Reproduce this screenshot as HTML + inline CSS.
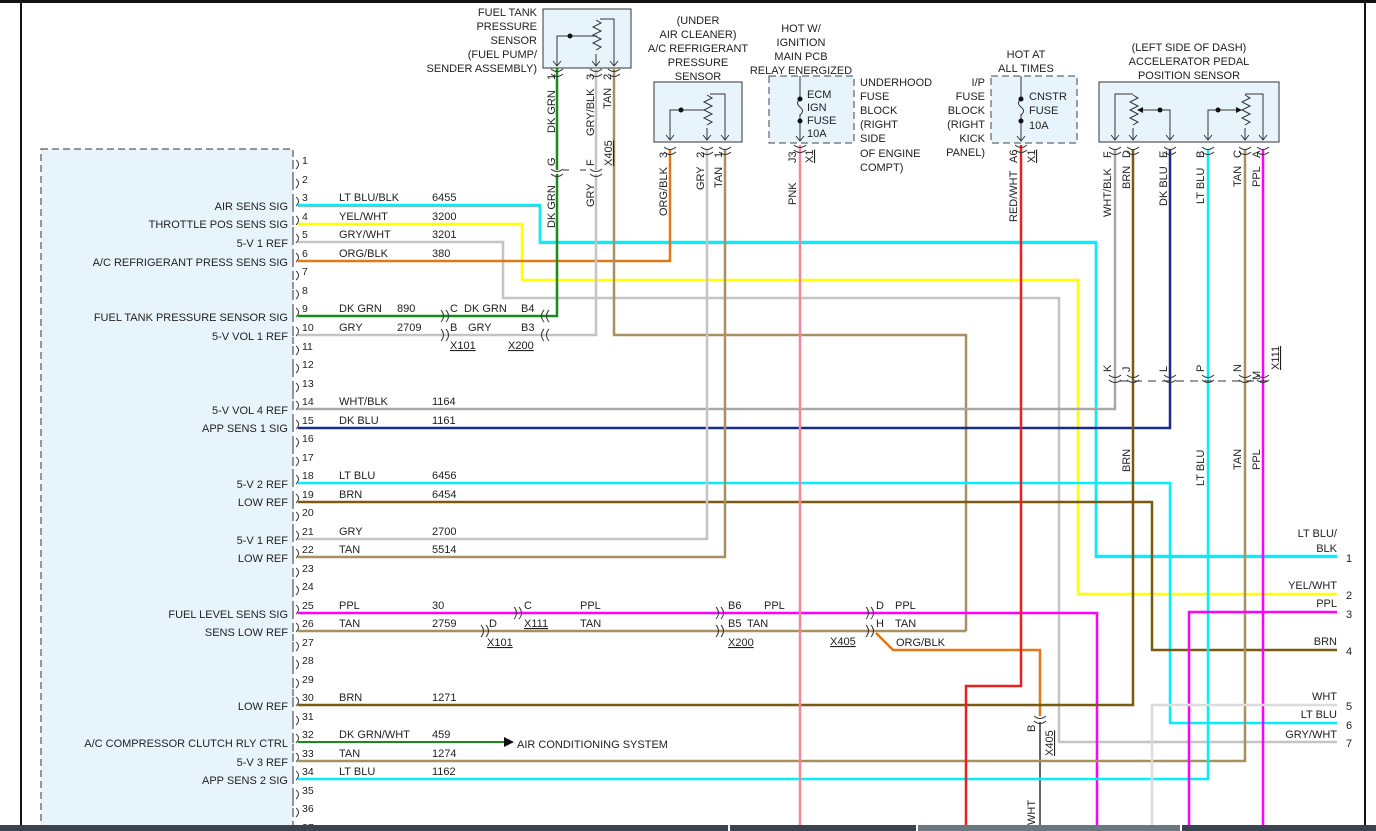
<!DOCTYPE html>
<html><head><meta charset="utf-8"><style>
html,body{margin:0;padding:0;background:#fff;}
svg{display:block;font-family:"Liberation Sans",sans-serif;font-size:11px;fill:#222;}
</style></head><body>
<svg width="1376" height="831" viewBox="0 0 1376 831" xmlns="http://www.w3.org/2000/svg">
<defs>
<g id="pm"><path d="M293 -8 V1 M296 -8 q5 4 0 9" stroke="#333" stroke-width="1" fill="none"/></g>
<g id="hc"><path d="M-4 -6 q5 6 0 12 M1 -6 q5 6 0 12" stroke="#333" stroke-width="1" fill="none"/></g>
<g id="hcl"><path d="M4 -6 q-5 6 0 12 M-1 -6 q-5 6 0 12" stroke="#333" stroke-width="1" fill="none"/></g>
<g id="vc"><path d="M-6 -3 q6 5 12 0 M-6 2 q6 5 12 0" stroke="#333" stroke-width="1" fill="none"/></g>
<g id="va"><path d="M-4 -5 L0 0 L4 -5" stroke="#333" stroke-width="1" fill="none"/></g>
</defs>
<rect x="0" y="0" width="1376" height="3" fill="#111"/>
<line x1="21" y1="0" x2="21" y2="831" stroke="#111" stroke-width="2"/>
<line x1="1365" y1="0" x2="1365" y2="831" stroke="#111" stroke-width="2"/>
<!-- ECU box -->
<rect x="41" y="149" width="252" height="700" fill="#e8f4fc" stroke="#333" stroke-dasharray="7,4" stroke-width="1"/>
<!-- pins -->
<g>
<use href="#pm" y="168"/><use href="#pm" y="187"/><use href="#pm" y="205"/><use href="#pm" y="224"/><use href="#pm" y="242"/><use href="#pm" y="261"/><use href="#pm" y="279"/><use href="#pm" y="298"/><use href="#pm" y="316"/><use href="#pm" y="335"/><use href="#pm" y="354"/><use href="#pm" y="372"/><use href="#pm" y="391"/><use href="#pm" y="409"/><use href="#pm" y="428"/><use href="#pm" y="446"/><use href="#pm" y="465"/><use href="#pm" y="483"/><use href="#pm" y="502"/><use href="#pm" y="520"/><use href="#pm" y="539"/><use href="#pm" y="557"/><use href="#pm" y="576"/><use href="#pm" y="594"/><use href="#pm" y="613"/><use href="#pm" y="631"/><use href="#pm" y="650"/><use href="#pm" y="668"/><use href="#pm" y="687"/><use href="#pm" y="705"/><use href="#pm" y="724"/><use href="#pm" y="742"/><use href="#pm" y="761"/><use href="#pm" y="779"/><use href="#pm" y="798"/><use href="#pm" y="816"/>
</g>
<g font-size="10.5">
<text x="302" y="164">1</text><text x="302" y="183">2</text><text x="302" y="201">3</text><text x="302" y="220">4</text><text x="302" y="238">5</text><text x="302" y="257">6</text><text x="302" y="275">7</text><text x="302" y="294">8</text><text x="302" y="312">9</text><text x="302" y="331">10</text><text x="302" y="350">11</text><text x="302" y="368">12</text><text x="302" y="387">13</text><text x="302" y="405">14</text><text x="302" y="424">15</text><text x="302" y="442">16</text><text x="302" y="461">17</text><text x="302" y="479">18</text><text x="302" y="498">19</text><text x="302" y="516">20</text><text x="302" y="535">21</text><text x="302" y="553">22</text><text x="302" y="572">23</text><text x="302" y="590">24</text><text x="302" y="609">25</text><text x="302" y="627">26</text><text x="302" y="646">27</text><text x="302" y="664">28</text><text x="302" y="683">29</text><text x="302" y="701">30</text><text x="302" y="720">31</text><text x="302" y="738">32</text><text x="302" y="757">33</text><text x="302" y="775">34</text><text x="302" y="794">35</text><text x="302" y="812">36</text><text x="302" y="831">37</text>
</g>
<g text-anchor="end">
<text x="288" y="210">AIR SENS SIG</text>
<text x="288" y="228">THROTTLE POS SENS SIG</text>
<text x="288" y="247">5-V 1 REF</text>
<text x="288" y="266">A/C REFRIGERANT PRESS SENS SIG</text>
<text x="288" y="321">FUEL TANK PRESSURE SENSOR SIG</text>
<text x="288" y="340">5-V VOL 1 REF</text>
<text x="288" y="414">5-V VOL 4 REF</text>
<text x="288" y="432">APP SENS 1 SIG</text>
<text x="288" y="488">5-V 2 REF</text>
<text x="288" y="506">LOW REF</text>
<text x="288" y="544">5-V 1 REF</text>
<text x="288" y="562">LOW REF</text>
<text x="288" y="618">FUEL LEVEL SENS SIG</text>
<text x="288" y="636">SENS LOW REF</text>
<text x="288" y="710">LOW REF</text>
<text x="288" y="747">A/C COMPRESSOR CLUTCH RLY CTRL</text>
<text x="288" y="766">5-V 3 REF</text>
<text x="288" y="784">APP SENS 2 SIG</text>
</g>
<!-- wire labels -->
<g>
<text x="339" y="201">LT BLU/BLK</text><text x="432" y="201">6455</text>
<text x="339" y="220">YEL/WHT</text><text x="432" y="220">3200</text>
<text x="339" y="238">GRY/WHT</text><text x="432" y="238">3201</text>
<text x="339" y="257">ORG/BLK</text><text x="432" y="257">380</text>
<text x="339" y="312">DK GRN</text><text x="397" y="312">890</text>
<text x="339" y="331">GRY</text><text x="397" y="331">2709</text>
<text x="450" y="312">C</text><text x="464" y="312">DK GRN</text><text x="521" y="312">B4</text>
<text x="450" y="331">B</text><text x="468" y="331">GRY</text><text x="521" y="331">B3</text>
<text x="450" y="349" text-decoration="underline">X101</text><text x="508" y="349" text-decoration="underline">X200</text>
<text x="339" y="405">WHT/BLK</text><text x="432" y="405">1164</text>
<text x="339" y="424">DK BLU</text><text x="432" y="424">1161</text>
<text x="339" y="479">LT BLU</text><text x="432" y="479">6456</text>
<text x="339" y="498">BRN</text><text x="432" y="498">6454</text>
<text x="339" y="535">GRY</text><text x="432" y="535">2700</text>
<text x="339" y="553">TAN</text><text x="432" y="553">5514</text>
<text x="339" y="609">PPL</text><text x="432" y="609">30</text>
<text x="339" y="627">TAN</text><text x="432" y="627">2759</text>
<text x="524" y="609">C</text><text x="580" y="609">PPL</text>
<text x="489" y="627">D</text><text x="580" y="627">TAN</text>
<text x="524" y="627" text-decoration="underline">X111</text>
<text x="487" y="646" text-decoration="underline">X101</text>
<text x="728" y="609">B6</text><text x="764" y="609">PPL</text>
<text x="728" y="627">B5</text><text x="747" y="627">TAN</text>
<text x="728" y="646" text-decoration="underline">X200</text>
<text x="830" y="645" text-decoration="underline">X405</text>
<text x="876" y="609">D</text><text x="895" y="609">PPL</text>
<text x="876" y="627">H</text><text x="895" y="627">TAN</text>
<text x="896" y="646">ORG/BLK</text>
<text x="339" y="701">BRN</text><text x="432" y="701">1271</text>
<text x="339" y="738">DK GRN/WHT</text><text x="432" y="738">459</text>
<text x="517" y="748">AIR CONDITIONING SYSTEM</text>
<text x="339" y="757">TAN</text><text x="432" y="757">1274</text>
<text x="339" y="775">LT BLU</text><text x="432" y="775">1162</text>
</g>
<!-- sensor boxes -->
<rect x="543" y="9" width="88" height="59" fill="#e8f4fc" stroke="#333"/>
<path d="M557 66 V36 H597 M614 66 V19 H600 M596 66 V54" stroke="#333" fill="none"/>
<path d="M596 20 l5 3 l-8 4 l8 4 l-8 4 l8 4 l-8 4 l8 4 l-5 3" stroke="#333" fill="none"/>
<circle cx="570" cy="36" r="2.5" fill="#111"/>
<use href="#va" x="557" y="66"/><use href="#va" x="596" y="66"/><use href="#va" x="614" y="66"/>
<rect x="654" y="82" width="88" height="60" fill="#e8f4fc" stroke="#333"/>
<path d="M670 140 V110 H705 M725 140 V94 H710 M707 140 V128" stroke="#333" fill="none"/>
<path d="M707 95 l5 3 l-8 4 l8 4 l-8 4 l8 4 l-8 4 l8 4 l-5 3" stroke="#333" fill="none"/>
<circle cx="681" cy="110" r="2.5" fill="#111"/>
<use href="#va" x="670" y="140"/><use href="#va" x="707" y="140"/><use href="#va" x="725" y="140"/>
<rect x="769" y="76" width="85" height="67" fill="#e8f4fc" stroke="#444" stroke-dasharray="7,4"/>
<path d="M800 76 V98 M800 114 V141" stroke="#333" fill="none"/><path d="M800 99 q-5 4 0 8 q5 4 0 8" stroke="#333" fill="none"/>
<circle cx="800" cy="99" r="2.5" fill="#111"/><circle cx="800" cy="121" r="2.5" fill="#111"/>
<use href="#va" x="800" y="141"/>
<rect x="991" y="76" width="86" height="67" fill="#e8f4fc" stroke="#444" stroke-dasharray="7,4"/>
<path d="M1021 76 V98 M1021 114 V141" stroke="#333" fill="none"/><path d="M1021 99 q-5 4 0 8 q5 4 0 8" stroke="#333" fill="none"/>
<circle cx="1021" cy="99" r="2.5" fill="#111"/><circle cx="1021" cy="121" r="2.5" fill="#111"/>
<use href="#va" x="1021" y="141"/>
<rect x="1099" y="82" width="180" height="60" fill="#e8f4fc" stroke="#333"/>
<path d="M1115 140 V94 H1133 M1133 128 V140 M1170 140 V110 H1141 M1208 140 V110 H1238 M1263 140 V94 H1245 M1245 128 V140" stroke="#333" fill="none"/>
<path d="M1133 95 l5 3 l-8 4 l8 4 l-8 4 l8 4 l-8 4 l8 4 l-5 3 M1245 95 l5 3 l-8 4 l8 4 l-8 4 l8 4 l-8 4 l8 4 l-5 3" stroke="#333" fill="none"/>
<path d="M1137 110 l6 -3 v6 z M1242 110 l-6 -3 v6 z" fill="#111"/>
<circle cx="1160" cy="110" r="2.5" fill="#111"/><circle cx="1218" cy="110" r="2.5" fill="#111"/>
<use href="#va" x="1115" y="140"/><use href="#va" x="1133" y="140"/><use href="#va" x="1170" y="140"/><use href="#va" x="1208" y="140"/><use href="#va" x="1245" y="140"/><use href="#va" x="1263" y="140"/>
<!-- box texts -->
<g text-anchor="end">
<text x="537" y="16">FUEL TANK</text><text x="537" y="30">PRESSURE</text><text x="537" y="44">SENSOR</text><text x="537" y="58">(FUEL PUMP/</text><text x="537" y="72">SENDER ASSEMBLY)</text>
<text x="985" y="86">I/P</text><text x="985" y="100">FUSE</text><text x="985" y="114">BLOCK</text><text x="985" y="128">(RIGHT</text><text x="985" y="142">KICK</text><text x="985" y="156">PANEL)</text>
</g>
<g text-anchor="middle">
<text x="698" y="24">(UNDER</text><text x="698" y="38">AIR CLEANER)</text><text x="698" y="52">A/C REFRIGERANT</text><text x="698" y="66">PRESSURE</text><text x="698" y="80">SENSOR</text>
<text x="801" y="32">HOT W/</text><text x="801" y="46">IGNITION</text><text x="801" y="60">MAIN PCB</text><text x="801" y="74">RELAY ENERGIZED</text>
<text x="1026" y="58">HOT AT</text><text x="1026" y="72">ALL TIMES</text>
<text x="1189" y="51">(LEFT SIDE OF DASH)</text><text x="1189" y="65">ACCELERATOR PEDAL</text><text x="1189" y="79">POSITION SENSOR</text>
</g>
<text x="807" y="98">ECM</text><text x="807" y="111">IGN</text><text x="807" y="124">FUSE</text><text x="807" y="137">10A</text>
<text x="860" y="86">UNDERHOOD</text><text x="860" y="100">FUSE</text><text x="860" y="114">BLOCK</text><text x="860" y="128">(RIGHT</text><text x="860" y="142">SIDE</text><text x="860" y="157">OF ENGINE</text><text x="860" y="171">COMPT)</text>
<text x="1029" y="100">CNSTR</text><text x="1029" y="114">FUSE</text><text x="1029" y="129">10A</text>
<!-- wires -->
<g fill="none" stroke-width="2.5" stroke-linejoin="miter">
<path d="M298 206 H540 V243 H1096 V557 H1337" stroke="#aaa"/>
<path d="M298 205 H540 V242 H1096 V556 H1337" stroke="#00f0ff"/>
<path d="M298 224 H522 V280 H1078 V594 H1337" stroke="#ffff00"/>
<path d="M298 242 H503 V298 H1059 V742 H1337" stroke="#c4c4c4"/>
<path d="M298 261 H670 V150" stroke="#e07818"/>
<path d="M298 316 H557 V68" stroke="#1a8a1a"/>
<path d="M298 335 H596 V68" stroke="#c4c4c4"/>
<path d="M614 68 V335 H966 V631" stroke="#a89060"/>
<path d="M298 409 H1115 V150" stroke="#a8a8a8"/>
<path d="M298 428 H1170 V150" stroke="#1a2a88"/>
<path d="M298 483 H1170 V723 H1337" stroke="#00f0ff"/>
<path d="M298 502 H1152 V650 H1337" stroke="#7a5a10"/>
<path d="M298 539 H707 V150" stroke="#c4c4c4"/>
<path d="M298 557 H725 V150" stroke="#a89060"/>
<path d="M298 613 H1097 V831" stroke="#ff00ff"/>
<path d="M298 631 H966" stroke="#a89060"/>
<path d="M876 633 L893 650 H1040 V716" stroke="#e07818"/>
<path d="M1040 722 V831" stroke="#666" stroke-width="2"/>
<path d="M298 705 H1133 V150" stroke="#7a5a10"/>
<path d="M298 742 H505" stroke="#1a8a1a" stroke-width="2"/>
<path d="M298 761 H1245 V150" stroke="#a89060"/>
<path d="M298 779 H1208 V150" stroke="#00f0ff"/>
<path d="M1263 150 V831" stroke="#ff00ff"/>
<path d="M1189 831 V612 H1337" stroke="#ff00ff"/>
<path d="M1152 831 V705 H1337" stroke="#dcdcdc"/>
<path d="M800 145 V831" stroke="#f08898"/>
<path d="M1021 145 V686 H966 V831" stroke="#e82020"/>
</g>
<path d="M504 737 L514 742 L504 747 Z" fill="#111"/>
<!-- gap at G/F connectors -->
<rect x="552" y="170" width="48" height="4" fill="#fff"/>
<use href="#vc" x="557" y="172"/><use href="#vc" x="596" y="172"/>
<path d="M563 170 H569 M580 170 H586" stroke="#333"/>
<!-- connectors -->
<use href="#vc" x="557" y="72"/><use href="#vc" x="596" y="72"/><use href="#vc" x="614" y="72"/>
<use href="#vc" x="670" y="150"/><use href="#vc" x="707" y="150"/><use href="#vc" x="725" y="150"/>
<use href="#vc" x="800" y="148"/><use href="#vc" x="1021" y="148"/>
<use href="#vc" x="1115" y="150"/><use href="#vc" x="1133" y="150"/><use href="#vc" x="1170" y="150"/><use href="#vc" x="1208" y="150"/><use href="#vc" x="1245" y="150"/><use href="#vc" x="1263" y="150"/>
<use href="#vc" x="1115" y="378"/><use href="#vc" x="1133" y="378"/><use href="#vc" x="1170" y="378"/><use href="#vc" x="1208" y="378"/><use href="#vc" x="1245" y="378"/><use href="#vc" x="1263" y="378"/>
<path d="M1120 381 H1270" stroke="#333" stroke-dasharray="8,6"/>
<use href="#vc" x="1040" y="719"/>
<use href="#hc" x="445" y="316"/><use href="#hc" x="445" y="335"/>
<use href="#hcl" x="545" y="316"/><use href="#hcl" x="545" y="335"/>
<use href="#hc" x="518" y="613"/><use href="#hc" x="485" y="631"/>
<use href="#hc" x="720" y="613"/><use href="#hc" x="720" y="631"/>
<use href="#hc" x="870" y="613"/><use href="#hc" x="870" y="631"/>
<!-- rotated labels -->
<g>
<text transform="translate(555,133) rotate(-90)">DK GRN</text>
<text transform="translate(555,80) rotate(-90)">1</text>
<text transform="translate(555,166) rotate(-90)">G</text>
<text transform="translate(555,228) rotate(-90)">DK GRN</text>
<text transform="translate(594,136) rotate(-90)">GRY/BLK</text>
<text transform="translate(594,80) rotate(-90)">3</text>
<text transform="translate(594,166) rotate(-90)">F</text>
<text transform="translate(594,207) rotate(-90)">GRY</text>
<text transform="translate(611,109) rotate(-90)">TAN</text>
<text transform="translate(611,80) rotate(-90)">2</text>
<text transform="translate(612,166) rotate(-90)" text-decoration="underline">X405</text>
<text transform="translate(667,216) rotate(-90)">ORG/BLK</text>
<text transform="translate(667,158) rotate(-90)">3</text>
<text transform="translate(704,190) rotate(-90)">GRY</text>
<text transform="translate(704,158) rotate(-90)">2</text>
<text transform="translate(722,188) rotate(-90)">TAN</text>
<text transform="translate(722,158) rotate(-90)">1</text>
<text transform="translate(796,163) rotate(-90)">J3</text>
<text transform="translate(813,163) rotate(-90)" text-decoration="underline">X1</text>
<text transform="translate(796,205) rotate(-90)">PNK</text>
<text transform="translate(1017,163) rotate(-90)">A6</text>
<text transform="translate(1035,163) rotate(-90)" text-decoration="underline">X1</text>
<text transform="translate(1017,222) rotate(-90)">RED/WHT</text>
<text transform="translate(1111,158) rotate(-90)">F</text>
<text transform="translate(1111,217) rotate(-90)">WHT/BLK</text>
<text transform="translate(1130,158) rotate(-90)">D</text>
<text transform="translate(1130,189) rotate(-90)">BRN</text>
<text transform="translate(1167,158) rotate(-90)">E</text>
<text transform="translate(1167,206) rotate(-90)">DK BLU</text>
<text transform="translate(1204,158) rotate(-90)">B</text>
<text transform="translate(1204,204) rotate(-90)">LT BLU</text>
<text transform="translate(1241,158) rotate(-90)">C</text>
<text transform="translate(1241,187) rotate(-90)">TAN</text>
<text transform="translate(1260,158) rotate(-90)">A</text>
<text transform="translate(1260,187) rotate(-90)">PPL</text>
<text transform="translate(1111,372) rotate(-90)">K</text>
<text transform="translate(1130,372) rotate(-90)">J</text>
<text transform="translate(1167,372) rotate(-90)">L</text>
<text transform="translate(1204,372) rotate(-90)">P</text>
<text transform="translate(1241,372) rotate(-90)">N</text>
<text transform="translate(1260,380) rotate(-90)">M</text>
<text transform="translate(1279,370) rotate(-90)" text-decoration="underline">X111</text>
<text transform="translate(1130,472) rotate(-90)">BRN</text>
<text transform="translate(1204,486) rotate(-90)">LT BLU</text>
<text transform="translate(1241,470) rotate(-90)">TAN</text>
<text transform="translate(1260,470) rotate(-90)">PPL</text>
<text transform="translate(1035,732) rotate(-90)">B</text>
<text transform="translate(1053,756) rotate(-90)" text-decoration="underline">X405</text>
<text transform="translate(1035,825) rotate(-90)">WHT</text>
</g>
<!-- right terminals -->
<g text-anchor="end">
<text x="1337" y="537">LT BLU/</text><text x="1337" y="552">BLK</text>
<text x="1337" y="589">YEL/WHT</text><text x="1337" y="607">PPL</text>
<text x="1337" y="645">BRN</text><text x="1337" y="700">WHT</text>
<text x="1337" y="718">LT BLU</text><text x="1337" y="738">GRY/WHT</text>
</g>
<g>
<text x="1346" y="562">1</text><text x="1346" y="599">2</text><text x="1346" y="618">3</text><text x="1346" y="655">4</text><text x="1346" y="710">5</text><text x="1346" y="729">6</text><text x="1346" y="747">7</text>
</g>
<!-- bottom bar -->
<rect x="0" y="825" width="728" height="6" fill="#3a4350"/>
<rect x="730" y="825" width="186" height="6" fill="#3a4350"/>
<rect x="918" y="825" width="262" height="6" fill="#6a7680"/>
<rect x="1182" y="825" width="194" height="6" fill="#3a4350"/>
</svg>
</body></html>
